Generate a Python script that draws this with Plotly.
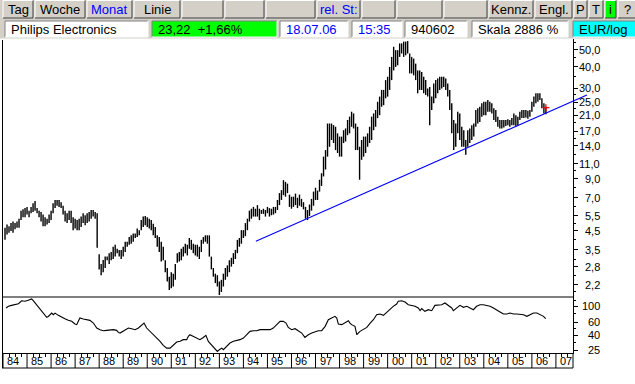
import plotly.graph_objects as go
import math

# ---------------- data ----------------
years = list(range(1984, 2007))

low84 = [4.0, 4.3, 4.4, 4.5, 4.4, 4.6, 4.7, 4.7, 5.2, 5.4, 5.4, 5.6]
high84 = [4.7, 4.9, 4.8, 5.0, 5.1, 5.0, 5.1, 5.3, 5.9, 6.0, 6.1, 6.2]
low85 = [5.4, 5.7, 5.8, 5.9, 5.7, 5.4, 5.1, 4.8, 4.8, 4.9, 5.0, 5.2]
high85 = [5.9, 6.2, 6.5, 6.7, 6.1, 5.9, 5.8, 5.6, 5.4, 5.3, 5.6, 5.9]
low86 = [5.7, 6.1, 6.3, 6.2, 6.1, 5.6, 5.1, 5.0, 5.2, 5.0, 4.55, 4.65]
high86 = [6.5, 6.8, 6.8, 6.8, 6.6, 6.3, 5.9, 5.7, 5.9, 5.9, 5.4, 5.3]
low87 = [4.55, 4.55, 4.75, 5.0, 4.85, 5.0, 5.1, 5.3, 5.45, 5.3, 3.6, 2.7]
high87 = [5.2, 5.3, 5.45, 5.7, 5.55, 5.7, 5.8, 5.95, 5.95, 5.8, 5.7, 3.3]
low88 = [2.5, 2.6, 2.75, 3.05, 2.9, 3.05, 3.1, 3.2, 3.35, 3.2, 3.1, 3.2]
high88 = [2.9, 3.06, 3.2, 3.2, 3.35, 3.4, 3.65, 3.75, 3.55, 3.5, 3.5, 3.65]
low89 = [3.4, 3.65, 3.75, 3.8, 3.9, 4.1, 4.15, 4.25, 4.55, 4.75, 4.85, 4.75]
high89 = [3.9, 3.9, 4.15, 4.25, 4.35, 4.35, 4.65, 4.55, 5.2, 5.45, 5.5, 5.4]
low90 = [4.65, 4.55, 4.25, 4.1, 3.65, 3.4, 3.0, 3.05, 2.6, 2.3, 2.05, 2.1]
high90 = [5.3, 5.2, 4.95, 4.75, 4.25, 4.15, 3.9, 3.65, 3.05, 2.75, 2.45, 2.6]
low91 = [2.15, 2.35, 2.95, 3.0, 3.05, 3.2, 3.35, 3.25, 3.55, 3.5, 3.35, 3.25]
high91 = [2.55, 2.9, 3.35, 3.4, 3.55, 3.65, 3.8, 3.75, 4.1, 4.0, 3.8, 3.75]
low92 = [3.2, 3.1, 3.4, 3.8, 3.9, 3.8, 3.2, 2.7, 2.45, 2.25, 2.15, 1.92]
high92 = [3.75, 3.65, 4.0, 4.15, 4.25, 4.25, 4.25, 3.2, 2.75, 2.55, 2.5, 2.3]
low93 = [2.0, 2.15, 2.35, 2.45, 2.6, 2.8, 2.9, 3.1, 3.35, 3.65, 3.8, 4.1]
high93 = [2.35, 2.55, 2.75, 2.85, 3.05, 3.15, 3.35, 3.5, 4.0, 4.1, 4.55, 4.55]
low94 = [4.2, 4.55, 5.1, 5.3, 5.45, 5.45, 5.45, 5.2, 5.65, 5.65, 5.45, 5.7]
high94 = [5.0, 5.3, 5.9, 6.05, 6.2, 6.05, 6.35, 6.05, 5.95, 6.05, 5.95, 6.2]
low95 = [5.45, 5.55, 5.6, 5.7, 5.95, 6.35, 6.8, 7.25, 7.1, 7.45, 6.2, 6.05]
high95 = [6.1, 6.05, 6.2, 6.2, 6.8, 7.45, 7.75, 8.85, 8.65, 8.45, 7.3, 7.1]
low96 = [6.2, 6.35, 6.1, 6.3, 6.2, 6.0, 5.3, 5.2, 5.5, 5.9, 6.3, 6.8]
high96 = [7.1, 7.4, 7.0, 7.3, 6.9, 6.6, 6.2, 5.95, 6.4, 6.9, 7.6, 8.0]
low97 = [6.8, 7.6, 8.2, 9.3, 10.2, 12.1, 13.8, 15.1, 14.5, 13.2, 12.7, 12.1]
high97 = [7.7, 8.9, 9.7, 12.1, 13.2, 18.8, 18.8, 18.8, 18.4, 18.0, 16.5, 15.8]
low98 = [12.1, 14.5, 14.8, 16.1, 16.5, 18.0, 17.6, 13.2, 13.2, 8.9, 11.6, 12.1]
high98 = [15.8, 17.2, 17.6, 19.7, 20.6, 22.0, 21.5, 18.8, 18.0, 13.8, 15.1, 15.8]
low99 = [12.7, 13.8, 14.5, 15.1, 17.2, 18.0, 20.2, 21.0, 23.5, 24.0, 26.3, 26.9]
high99 = [15.8, 16.5, 18.0, 20.6, 21.5, 22.5, 25.1, 26.9, 29.4, 29.4, 33.5, 35.0]
low00 = [29.4, 33.5, 38.1, 39.9, 40.8, 45.6, 47.7, 45.6, 46.6, 47.7, 36.6, 36.6]
high00 = [39.9, 45.6, 52.2, 49.9, 49.9, 54.6, 54.6, 55.9, 55.9, 56.3, 47.7, 45.6]
low01 = [35.7, 33.5, 28.1, 29.4, 29.4, 28.1, 27.5, 26.9, 18.4, 22.5, 24.6, 26.3]
high01 = [44.6, 41.7, 38.1, 38.1, 37.3, 35.0, 33.5, 30.0, 30.6, 26.9, 32.0, 33.5]
low02 = [28.1, 29.4, 30.0, 30.6, 29.4, 26.9, 22.5, 16.5, 13.2, 13.8, 16.5, 15.1]
high02 = [34.2, 35.0, 35.0, 35.0, 34.2, 32.0, 29.4, 24.6, 19.7, 18.8, 22.0, 21.5]
low03 = [13.8, 13.8, 12.4, 13.8, 14.5, 15.1, 15.8, 18.0, 18.8, 19.2, 20.6, 21.0]
high03 = [18.0, 17.2, 15.1, 17.2, 17.6, 18.4, 18.8, 22.5, 23.0, 23.5, 24.6, 25.1]
low04 = [21.0, 22.0, 22.0, 21.5, 19.7, 19.2, 18.0, 17.6, 17.6, 17.8, 18.2, 18.4]
high04 = [25.1, 25.7, 25.1, 24.6, 23.0, 22.5, 20.6, 19.7, 19.7, 19.7, 19.7, 19.9]
low05 = [18.0, 18.4, 18.4, 18.0, 18.4, 19.7, 20.2, 20.2, 20.4, 20.0, 20.6, 22.0]
high05 = [19.7, 20.2, 21.5, 21.0, 20.6, 22.0, 22.5, 22.5, 22.5, 22.3, 22.5, 25.1]
low06 = [23.5, 24.6, 25.1, 25.7, 23.0, 21.5, 21.3]
high06 = [26.9, 28.1, 28.1, 28.1, 26.3, 24.6, 23.5]

lows = [low84, low85, low86, low87, low88, low89, low90, low91, low92, low93, low94,
        low95, low96, low97, low98, low99, low00, low01, low02, low03, low04, low05, low06]
highs = [high84, high85, high86, high87, high88, high89, high90, high91, high92, high93, high94,
         high95, high96, high97, high98, high99, high00, high01, high02, high03, high04, high05, high06]

# indicator (month counted from Jan 1984 = 1, value)
ind_month = [1.5, 2.7, 4.3, 6.0, 7.7, 9.3, 11.0, 12.6, 14.3, 15.1, 16.8, 18.5, 20.1, 21.8, 22.6,
             23.5, 24.3, 25.1, 26.0, 27.6, 29.3, 30.9, 32.6, 34.3, 35.9, 36.8, 37.6, 38.4, 40.1,
             41.8, 43.4, 45.1, 46.8, 48.4, 50.1, 51.7, 53.4, 55.1, 56.7, 57.6, 58.4, 59.2, 60.9,
             62.6, 64.2, 65.9, 67.6, 69.2, 70.4, 71.7, 73.4, 75.0, 76.7, 78.4, 80.0, 81.7, 83.4,
             85.0, 86.7, 88.4, 90.0, 91.7, 92.5, 93.3, 95.0, 96.7, 98.3, 100.0, 101.3, 102.5,
             104.2, 105.8, 107.0, 108.0, 109.2, 110.0, 111.6, 113.3, 115.0, 116.6, 118.3, 120.0,
             121.6, 123.3, 125.0, 126.6, 128.3, 130.0, 131.6, 133.3, 134.9, 136.6, 138.3, 139.9,
             141.3, 142.4, 144.1, 145.8, 147.4, 149.1, 150.7, 152.4, 154.1, 155.7, 157.4, 159.1,
             160.8, 162.4, 164.1, 165.7, 166.6, 167.4, 169.1, 170.7, 172.4, 173.2, 174.0, 175.7,
             176.6, 178.2, 179.9, 181.6, 183.3, 184.9, 186.5, 188.2, 189.9, 191.6, 193.2, 194.8,
             196.5, 197.3, 199.0, 200.7, 202.3, 204.0, 205.7, 207.3, 208.2, 209.0, 210.6, 212.3,
             214.0, 215.6, 217.3, 219.0, 220.6, 222.3, 224.0, 224.8, 226.5, 228.1, 229.8, 231.5,
             233.1, 234.8, 236.4, 238.1, 239.8, 241.5, 243.1, 244.8, 246.5, 248.1, 249.8, 251.5,
             253.1, 254.8, 256.5, 258.1, 259.8, 261.5, 263.1, 264.8, 266.5, 268.1, 269.8, 270.9]
ind_value = [94, 99, 102, 104, 107.6, 118, 116, 119.5, 124.6, 118, 104, 89, 80.2, 70, 72,
             76, 80, 76, 80, 74.5, 70, 67, 64, 61.7, 56.7, 55.6, 61.7, 68.5, 66.4,
             65, 63.6, 58.5, 50, 47.5, 46, 46.5, 47, 47.5, 46.5, 43.6, 42.7, 44.1, 46.5,
             50, 49, 47.5, 50, 55.6, 58.5, 50, 45, 41.4, 37.3, 32.9, 29.0, 26.6, 26.6,
             29.6, 32.2, 32.9, 34.7, 34.7, 38.6, 40.5, 38.6, 36.5, 34.7, 37.2, 39.7, 32.9,
             29.0, 26.6, 24.0, 25.3, 26.6, 25.3, 28.1, 31.2, 32.9, 33.6, 34.7, 36.5,
             40.5, 45, 46, 46, 47.5, 47.5, 47.5, 47.5, 50, 55.6, 61.7, 61.7,
             58.5, 51, 47.5, 49, 46, 42.7, 37.2, 40.5, 42.7, 44.1, 46, 46,
             52.7, 65, 68.5, 72.2, 68.5, 56.7, 55.6, 58.5, 63, 58.5, 55.6, 52.7,
             40.5, 45, 47.5, 51, 58.5, 65, 76, 77.7, 74.5, 82.8, 92, 99,
             106.5, 115.8, 118, 113.4, 104, 102, 99, 94, 86.3, 92, 84.5, 89,
             86.3, 102, 102, 104, 110, 102, 94, 86.3, 94, 102, 96, 99,
             94, 89, 99, 104, 104, 102, 99, 94, 89, 82.8, 77.7, 77.7,
             80.2, 77.7, 77.7, 76.1, 76.1, 72.2, 76.1, 80.2, 80.2, 76.1, 72.2, 67]

# hand-drawn trend line (start, end as drawn; it runs a little past the price axis)
trend_t = [1994.52, 2008.29]
trend_v = [3.92, 27.5]
last_close = 23.22

price_ticks = [2.2, 2.8, 3.5, 4.5, 5.5, 7, 9, 11, 14, 17, 21, 25, 30, 40, 50]
price_minor = [2.0, 2.5, 3.1, 4.0, 5.0, 6.2, 8.0, 10, 12.5, 15.5, 19, 23, 27.5, 35, 45, 55]
ind_ticks = [25, 40, 60, 100]
ind_minor = [32, 50, 80, 120]
year_labels = ["84", "85", "86", "87", "88", "89", "90", "91", "92", "93", "94", "95",
               "96", "97", "98", "99", "00", "01", "02", "03", "04", "05", "06", "07"]

# ---------------- geometry helpers (page chrome) ----------------
W, H = 635, 384
L, R, T, B = 2, 30, 39, 31          # outer area (x 2..605, y 39..353)
PW, PH = W - L - R, H - T - B
AXR = 573                            # price axis position (px)
PPX = 24.04                          # px per year


def px(x):
    return (x - L) / PW


def py(y):
    return (H - B - y) / PH


FONT = "Liberation Sans, Arial, sans-serif"
FACE = "#d4d0c8"

# ---------------- traces ----------------
bx, by = [], []
for yi, yr in enumerate(years):
    for mi, (lo, hi) in enumerate(zip(lows[yi], highs[yi])):
        t = yr + (mi + 1) / 12.0
        bx += [t, t, None]
        by += [lo, hi, None]
last_t = years[-1] + len(low06) / 12.0

x0r = 1984 + (L - 3) / PPX
x1r = 1984 + (AXR - 3) / PPX
x1w = 1984 + (L + PW - 3) / PPX
split = py(297)
yr_main = [math.log10(1.87), math.log10(57.87)]

fig = go.Figure()
fig.add_trace(go.Scatter(x=bx, y=by, mode="lines", line=dict(color="black", width=1.4),
                         hoverinfo="skip", showlegend=False, xaxis="x", yaxis="y"))
fig.add_trace(go.Scatter(x=trend_t, y=trend_v, mode="lines", line=dict(color="#0000ff", width=1.1),
                         showlegend=False, xaxis="x3", yaxis="y3"))
fig.add_trace(go.Scatter(x=[last_t], y=[last_close], mode="markers",
                         marker=dict(symbol="cross-thin", size=5, line=dict(color="red", width=1.3)),
                         showlegend=False, xaxis="x", yaxis="y"))
fig.add_trace(go.Scatter(x=[1984 + m / 12.0 for m in ind_month], y=ind_value, mode="lines",
                         line=dict(color="black", width=1.1), showlegend=False,
                         xaxis="x", yaxis="y2"))

qt = [yr + q for yr in years + [2007] for q in (0.25, 0.5, 0.75) if yr + q < x1r]
dom_x = [0, px(AXR)]

fig.update_layout(
    width=W, height=H, margin=dict(l=L, r=R, t=T, b=B, pad=0),
    paper_bgcolor="white", plot_bgcolor="rgba(0,0,0,0)",
    separators=",.",
    font=dict(family=FONT, size=11, color="black"),
    showlegend=False,
    xaxis=dict(range=[x0r, x1r], domain=dom_x, anchor="y2", showgrid=False, zeroline=False,
               showticklabels=False, tickmode="array", tickvals=qt, ticks="outside",
               ticklen=3, tickcolor="black", showline=True, linecolor="black", linewidth=1),
    yaxis=dict(type="log", domain=[split, 1], anchor="x", side="right",
               range=yr_main,
               tickmode="array", tickvals=price_ticks, showticklabels=False,
               ticks="outside", ticklen=4, tickcolor="black", showline=True,
               linecolor="black", linewidth=1, showgrid=False, zeroline=False,
               minor=dict(tickmode="array", tickvals=price_minor, ticks="outside",
                          ticklen=2, tickcolor="black", showgrid=False)),
    yaxis2=dict(type="log", domain=[0, split], anchor="x", side="right",
                range=[math.log10(22.8), math.log10(132.7)],
                tickmode="array", tickvals=ind_ticks, showticklabels=False,
                ticks="outside", ticklen=4, tickcolor="black", showline=True,
                linecolor="black", linewidth=1, showgrid=False, zeroline=False,
                minor=dict(tickmode="array", tickvals=ind_minor, ticks="outside",
                           ticklen=2, tickcolor="black", showgrid=False)),
    # same scale as the price panel, wider clip area for the trend line
    xaxis3=dict(range=[x0r, x1w], domain=[0, 1], anchor="y3", visible=False),
    yaxis3=dict(type="log", range=yr_main, domain=[split, 1], anchor="x3", visible=False),
)

shapes = []
annotations = []

# right-aligned axis labels placed through the axes' own scales
for v in price_ticks:
    annotations.append(dict(xref="paper", yref="y", x=px(602), y=math.log10(v),
                            text=f"{v:.1f}".replace(".", ","), showarrow=False,
                            xanchor="right", yanchor="middle", font=dict(size=11)))
for v in ind_ticks:
    annotations.append(dict(xref="paper", yref="y2", x=px(602), y=math.log10(v),
                            text=str(v), showarrow=False,
                            xanchor="right", yanchor="middle", font=dict(size=11)))

# frame lines
shapes.append(dict(type="line", xref="paper", yref="paper", x0=0, x1=px(AXR), y0=split, y1=split,
                   line=dict(color="black", width=1)))
shapes.append(dict(type="line", xref="paper", yref="paper", x0=px(2.5), x1=px(2.5),
                   y0=py(368), y1=py(40), line=dict(color="black", width=1)))

# date boxes
ybot = py(368)
for i, lab in enumerate(year_labels):
    yr = 1984 + i
    shapes.append(dict(type="line", xref="x", yref="paper", x0=yr, x1=yr, y0=0, y1=ybot,
                       line=dict(color="black", width=1)))
    annotations.append(dict(xref="x", yref="paper", x=yr, y=py(360.5), text=lab,
                            showarrow=False, xanchor="left", yanchor="middle", xshift=2,
                            font=dict(size=11, color="black")))
shapes.append(dict(type="line", xref="paper", yref="paper", x0=0, x1=px(AXR), y0=ybot, y1=ybot,
                   line=dict(color="black", width=1)))
shapes.append(dict(type="line", xref="paper", yref="paper", x0=px(AXR), x1=px(AXR),
                   y0=0, y1=ybot, line=dict(color="black", width=1)))

# toolbar background
shapes.append(dict(type="rect", xref="paper", yref="paper", x0=px(0), x1=px(W), y0=py(38.5),
                   y1=py(0), fillcolor=FACE, line=dict(width=0), layer="above"))


def button(x0, x1, y0, y1, label, color="black", fill=FACE):
    shapes.append(dict(type="rect", xref="paper", yref="paper", x0=px(x0), x1=px(x1),
                       y0=py(y1), y1=py(y0), fillcolor=fill, line=dict(width=0), layer="above"))
    shapes.append(dict(type="path", xref="paper", yref="paper",
                       path=f"M {px(x0)},{py(y1)} L {px(x0)},{py(y0)} L {px(x1)},{py(y0)}",
                       line=dict(color="white", width=1), layer="above"))
    shapes.append(dict(type="path", xref="paper", yref="paper",
                       path=f"M {px(x0)},{py(y1)} L {px(x1)},{py(y1)} L {px(x1)},{py(y0)}",
                       line=dict(color="#404040", width=1), layer="above"))
    if label:
        annotations.append(dict(xref="paper", yref="paper", x=px((x0 + x1) / 2),
                                y=py((y0 + y1) / 2), text=label, showarrow=False,
                                xanchor="center", yanchor="middle",
                                font=dict(size=13, color=color)))


def field(x0, x1, y0, y1, label, color="black", fill="white"):
    shapes.append(dict(type="rect", xref="paper", yref="paper", x0=px(x0), x1=px(x1),
                       y0=py(y1), y1=py(y0), fillcolor=fill, line=dict(width=0), layer="above"))
    shapes.append(dict(type="path", xref="paper", yref="paper",
                       path=f"M {px(x0)},{py(y1)} L {px(x0)},{py(y0)} L {px(x1)},{py(y0)}",
                       line=dict(color="#808080", width=1), layer="above"))
    shapes.append(dict(type="path", xref="paper", yref="paper",
                       path=f"M {px(x0)},{py(y1)} L {px(x1)},{py(y1)} L {px(x1)},{py(y0)}",
                       line=dict(color="white", width=1), layer="above"))
    annotations.append(dict(xref="paper", yref="paper", x=px(x0 + 4),
                            y=py((y0 + y1) / 2), text=label, showarrow=False,
                            xanchor="left", yanchor="middle",
                            font=dict(size=13, color=color)))


row1 = [("Tag", 3, 33, "black", FACE), ("Woche", 35, 85, "black", FACE),
        ("Monat", 87, 132, "#0000ff", FACE), ("Linie", 134, 180, "black", FACE),
        ("", 182, 223, "black", FACE), ("", 225, 264, "black", FACE),
        ("", 266, 315, "black", FACE), ("rel. St:", 317, 360, "#0000ff", FACE),
        ("", 362, 395, "black", FACE), ("", 397, 442, "black", FACE),
        ("", 444, 487, "black", FACE), ("Kennz.", 489, 533, "black", FACE),
        ("Engl.", 535, 572, "black", FACE), ("P", 574, 587, "black", FACE),
        ("T", 589, 603, "black", FACE), ("i", 605, 616, "black", "#00ff00"),
        ("?", 618, 636, "black", FACE)]
for lab, a, b, c, f in row1:
    button(a, b, 0.5, 18, lab, c, f)

row2 = [("Philips Electronics", 5, 148, "black", "white"),
        ("23,22&nbsp;&nbsp;+1,66%", 152, 277, "black", "#00ff00"),
        ("18.07.06", 280, 348, "#0000ff", "white"),
        ("15:35", 352, 402, "#0000ff", "white"),
        ("940602", 405, 467, "black", "white"),
        ("Skala 2886 %", 472, 568, "black", "white"),
        ("EUR/log", 573, 636, "black", "#00ffff")]
for lab, a, b, c, f in row2:
    field(a, b, 21, 37, lab, c, f)

fig.update_layout(shapes=shapes, annotations=annotations)
fig.write_html("out.html", config={"displayModeBar": False, "staticPlot": True},
               post_script="document.body.style.margin='0px';document.body.style.overflow='hidden';")
